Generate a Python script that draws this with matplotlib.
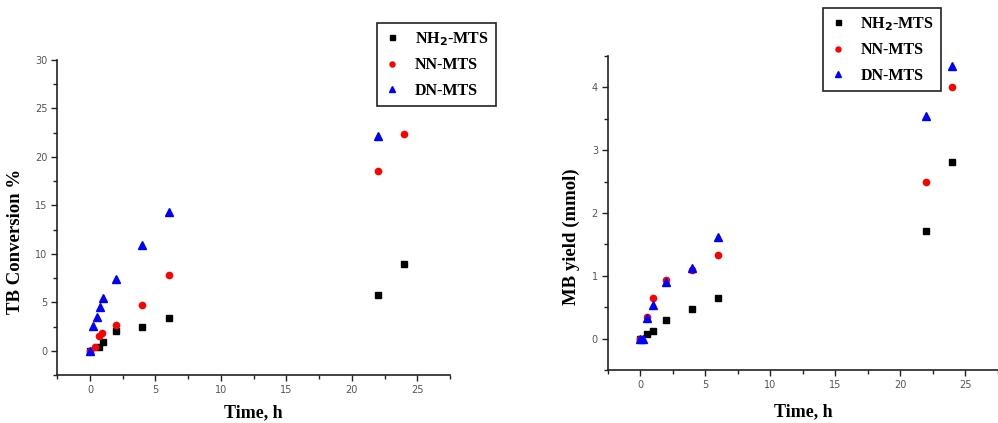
import matplotlib
matplotlib.use("Agg")
import matplotlib.pyplot as plt
from matplotlib.ticker import MultipleLocator

# TB conversion (%) vs time (h)
tb_nh2_t = [0, 0.7, 1, 2, 4, 6, 22, 24]
tb_nh2_y = [0, 0.4, 0.95, 2.0, 2.5, 3.35, 5.75, 9.0]
tb_nn_t = [0, 0.35, 0.7, 0.95, 2, 4, 6, 22, 24]
tb_nn_y = [0, 0.35, 1.5, 1.8, 2.7, 4.75, 7.8, 18.5, 22.35]
tb_dn_t = [0, 0.25, 0.5, 0.75, 1, 2, 4, 6, 22]
tb_dn_y = [0, 2.55, 3.5, 4.5, 5.4, 7.45, 10.95, 14.35, 22.2]

# MB yield (mmol) vs time (h)
mb_nh2_t = [0, 0.5, 1, 2, 4, 6, 22, 24]
mb_nh2_y = [0, 0.08, 0.12, 0.30, 0.47, 0.65, 1.71, 2.81]
mb_nn_t = [0, 0.5, 1, 2, 4, 6, 22, 24]
mb_nn_y = [0, 0.35, 0.64, 0.93, 1.1, 1.33, 2.5, 4.0]
mb_dn_t = [0, 0.25, 0.5, 1, 2, 4, 6, 22, 24]
mb_dn_y = [0, 0, 0.33, 0.54, 0.9, 1.13, 1.62, 3.54, 4.34]

labels = [r"NH$_\mathbf{2}$-MTS", "NN-MTS", "DN-MTS"]
SERIF = {"family": "Liberation Serif", "weight": "bold"}

fig = plt.figure(figsize=(9.98, 4.23), dpi=100)
ax1 = fig.add_axes([0.0574, 0.1135, 0.3935, 0.7447])
ax2 = fig.add_axes([0.6089, 0.1253, 0.3911, 0.7423])


def style(ax, ylim, ymaj, ymin, ylabel, ylab_xy, xlab_y):
    ax.set_xlim(-2.5, 27.5)
    ax.set_ylim(*ylim)
    ax.xaxis.set_major_locator(MultipleLocator(5))
    ax.xaxis.set_minor_locator(MultipleLocator(2.5))
    ax.yaxis.set_major_locator(MultipleLocator(ymaj))
    ax.yaxis.set_minor_locator(MultipleLocator(ymin))
    for s in ("top", "right"):
        ax.spines[s].set_visible(False)
    for s in ("left", "bottom"):
        ax.spines[s].set_linewidth(1.2)
        ax.spines[s].set_color("#222222")
    ax.tick_params(which="major", direction="out", length=4, width=1,
                   labelsize=7, labelcolor="#555555", pad=3, color="#222222")
    ax.tick_params(which="minor", direction="out", length=3, width=1, color="#222222")
    for lab in ax.get_xticklabels() + ax.get_yticklabels():
        lab.set_family("DejaVu Sans")
    ax.set_xlabel("Time, h", fontsize=13, fontdict=SERIF)
    ax.set_ylabel(ylabel, fontsize=13.5, fontdict=SERIF)
    ax.yaxis.set_label_coords(*ylab_xy)
    ax.xaxis.set_label_coords(0.5, xlab_y)


def scatter(ax, series):
    hs = []
    for (t, y), (mk, c, ms) in zip(series, [("s", "black", 4.5), ("o", "red", 4.5), ("^", "blue", 6)]):
        h, = ax.plot(t, y, ls="none", marker=mk, color=c, ms=ms, clip_on=False)
        hs.append(h)
    return hs


h1 = scatter(ax1, [(tb_nh2_t, tb_nh2_y), (tb_nn_t, tb_nn_y), (tb_dn_t, tb_dn_y)])
style(ax1, (-2.5, 30), 5, 2.5, "TB Conversion %", (-0.085, 0.424), -0.092)

h2 = scatter(ax2, [(mb_nh2_t, mb_nh2_y), (mb_nn_t, mb_nn_y), (mb_dn_t, mb_dn_y)])
style(ax2, (-0.5, 4.5), 1, 0.5, "MB yield (mmol)", (-0.071, 0.425), -0.105)

for hs, box in ((h1, (0.3758, 0.7565, 0.1232, 0.182)), (h2, (0.8216, 0.792, 0.1242, 0.182))):
    leg = fig.legend(hs, labels, loc="center", bbox_to_anchor=box,
                     prop={"family": "Liberation Serif", "weight": "bold", "size": 11.5},
                     markerscale=0.8, handlelength=1.0, handletextpad=0.9,
                     labelspacing=0.6, borderpad=0.45, fancybox=False,
                     edgecolor="#222222", framealpha=1)
    leg.get_frame().set_linewidth(1.2)

fig.savefig("out.png", dpi=100)
